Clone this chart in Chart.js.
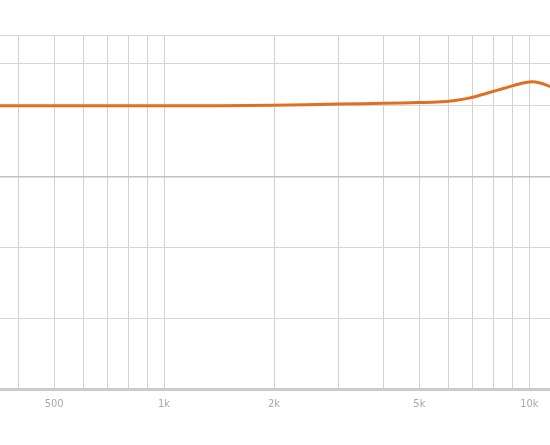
<!DOCTYPE html>
<html>
<head>
<meta charset="utf-8">
<script src="https://cdn.jsdelivr.net/npm/chart.js@4.4.1/dist/chart.umd.min.js"></script>
<style>
  html, body { margin: 0; padding: 0; background: #fff; }
  #wrap { width: 550px; height: 445px; }
</style>
</head>
<body>
<div id="wrap"><canvas id="frChart"></canvas></div>
<script>
// frequência (Hz) e resposta (dB)
const freqs = [300, 355, 500, 1000, 2000, 3000, 4000, 5000, 5600, 6200, 6880, 7650, 8490, 9440, 10160, 10710, 11390, 12000];
const gainDb = [0, 0, 0, 0, 0.07, 0.24, 0.35, 0.47, 0.52, 0.72, 1.12, 1.78, 2.45, 3.12, 3.40, 3.21, 2.73, 2.2];

// linhas de grade verticais e rótulos
const xGridValues = [400, 500, 600, 700, 800, 900, 1000, 2000, 3000, 4000, 5000, 6000, 7000, 8000, 9000, 10000];
const xTickLabels = { 500: '500', 1000: '1k', 2000: '2k', 5000: '5k', 10000: '10k' };

// linhas de grade horizontais (dB)
const yGridValues = [-40, -30, -20, -10, 0, 6, 10];

const points = freqs.map((f, i) => ({ x: f, y: gainDb[i] }));

const ctx = document.getElementById('frChart').getContext('2d');

new Chart(ctx, {
  type: 'line',
  data: {
    datasets: [{
      data: points,
      borderColor: '#e0701f',
      borderWidth: 3,
      pointRadius: 0,
      fill: false,
      tension: 0.35
    }]
  },
  options: {
    responsive: true,
    maintainAspectRatio: false,
    animation: false,
    layout: { padding: { top: 35, left: 0, right: 0, bottom: 0 } },
    plugins: {
      legend: { display: false },
      tooltip: { enabled: false }
    },
    scales: {
      x: {
        type: 'logarithmic',
        min: 355.4,
        max: 11394,
        afterBuildTicks: (scale) => {
          scale.ticks = xGridValues.map(v => ({ value: v }));
        },
        afterFit: (scale) => { scale.height = 56; },
        grid: {
          color: '#d2d2d2',
          lineWidth: 1,
          drawTicks: false
        },
        border: { display: true, color: '#cbcbcb', width: 3 },
        ticks: {
          autoSkip: false,
          maxRotation: 0,
          padding: 9,
          color: '#a9a9a9',
          font: { family: 'DejaVu Sans Condensed', size: 11 },
          callback: (value) => xTickLabels[value] || ''
        }
      },
      y: {
        type: 'linear',
        min: -40,
        max: 10,
        afterBuildTicks: (scale) => {
          scale.ticks = yGridValues.map(v => ({ value: v }));
        },
        afterFit: (scale) => { scale.width = 0; },
        grid: {
          drawTicks: false,
          color: (c) => c.tick && c.tick.value === -10 ? '#c2c2c2' : '#d6d6d6',
          lineWidth: (c) => c.tick && c.tick.value === -10 ? 1.5 : 1
        },
        border: { display: false },
        ticks: { display: false }
      }
    }
  }
});
</script>
</body>
</html>
